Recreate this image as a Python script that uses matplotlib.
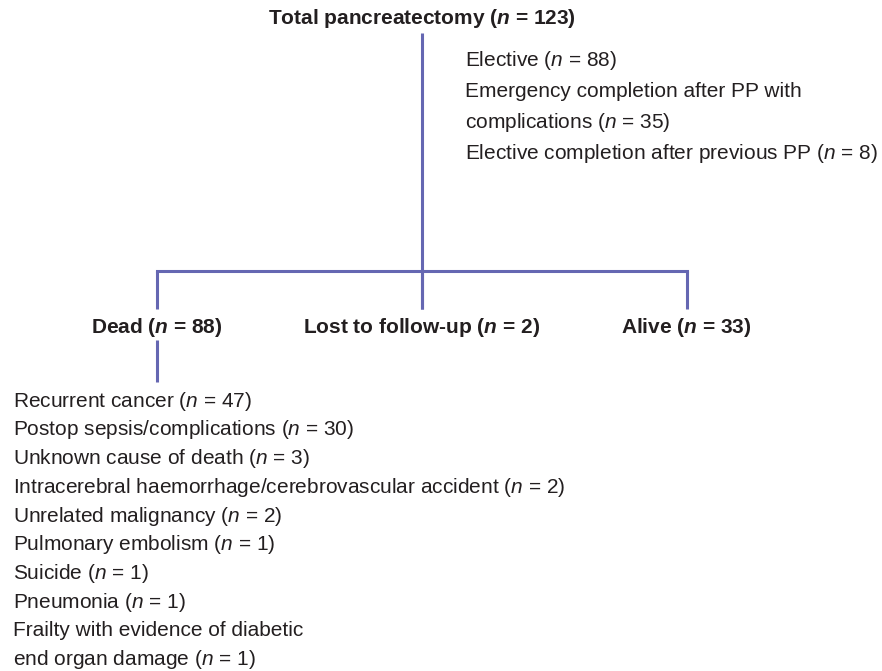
import matplotlib
matplotlib.use("Agg")
import matplotlib.pyplot as plt

plt.rcParams['font.family'] = ['Liberation Sans', 'DejaVu Sans']
plt.rcParams['mathtext.fontset'] = 'custom'
plt.rcParams['mathtext.rm'] = 'Liberation Sans'
plt.rcParams['mathtext.it'] = 'Liberation Sans:italic'
plt.rcParams['mathtext.bf'] = 'Liberation Sans:bold'
plt.rcParams['mathtext.bfit'] = 'Liberation Sans:italic:bold'

# ---- data ----
root_label = "Total pancreatectomy"
root_n = 123
root_details = ["Elective ({n} = 88)",
                "Emergency completion after PP with",
                "complications ({n} = 35)",
                "Elective completion after previous PP ({n} = 8)"]
branch_labels = ["Dead", "Lost to follow-up", "Alive"]
branch_n = [88, 2, 33]
death_causes = ["Recurrent cancer ({n} = 47)",
                "Postop sepsis/complications ({n} = 30)",
                "Unknown cause of death ({n} = 3)",
                "Intracerebral haemorrhage/cerebrovascular accident ({n} = 2)",
                "Unrelated malignancy ({n} = 2)",
                "Pulmonary embolism ({n} = 1)",
                "Suicide ({n} = 1)",
                "Pneumonia ({n} = 1)",
                "Frailty with evidence of diabetic",
                "end organ damage ({n} = 1)"]

LINE = '#6567b2'
TXT = '#231f20'
FS = 15.0
ITN = r'$n$'
BFN = r'$\mathbfit{n}$'

fig = plt.figure(figsize=(8.82, 6.71), dpi=100)
ax = fig.add_axes([0, 0, 1, 1])
ax.set_xlim(0, 882)
ax.set_ylim(671, 0)
ax.axis('off')

# layout
root_x = 421.5
branch_x = [156.5, 421.5, 686.5]
bar_y = 270.7
branch_bottom = 309
label_base = 333
lw = 2.2

ax.text(root_x, 24, f"{root_label} ({BFN} = {root_n})", ha='center', va='baseline',
        fontsize=FS, fontweight='bold', color=TXT)
ax.plot([root_x, root_x], [33, branch_bottom], color=LINE, lw=lw, solid_capstyle='butt')
ax.plot([branch_x[0], branch_x[-1]], [bar_y, bar_y], color=LINE, lw=lw, solid_capstyle='projecting')
for bx in branch_x:
    ax.plot([bx, bx], [bar_y, branch_bottom], color=LINE, lw=lw, solid_capstyle='butt')

for i, d in enumerate(root_details):
    ax.text(465, 66.5 + 30.7 * i, d.format(n=ITN), ha='left', va='baseline', fontsize=FS, color=TXT)

for bx, lab, n in zip(branch_x, branch_labels, branch_n):
    ax.text(bx, label_base, f"{lab} ({BFN} = {n})", ha='center', va='baseline',
            fontsize=FS, fontweight='bold', color=TXT)

ax.plot([branch_x[0], branch_x[0]], [340, 382], color=LINE, lw=lw, solid_capstyle='butt')

for i, c in enumerate(death_causes):
    ax.text(12.7, 406.7 + 28.7 * i, c.format(n=ITN), ha='left', va='baseline', fontsize=FS, color=TXT)

fig.savefig('out.png', dpi=100)
